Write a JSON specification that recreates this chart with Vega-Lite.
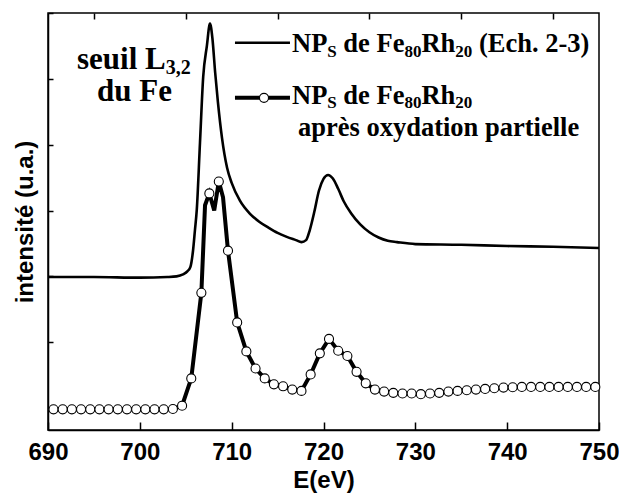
{
  "$schema": "https://vega.github.io/schema/vega-lite/v6.json",
  "width": 551,
  "height": 417,
  "autosize": {"type": "none"},
  "padding": {"left": 48, "top": 13, "right": 20, "bottom": 64},
  "background": "white",
  "config": {
    "view": {"stroke": "black", "strokeWidth": 1.5},
    "axis": {
      "grid": false,
      "domainColor": "black",
      "domainWidth": 1.5,
      "tickColor": "black",
      "tickWidth": 1.5,
      "labelFont": "Liberation Sans",
      "labelFontWeight": "bold",
      "labelFontSize": 24,
      "labelColor": "black",
      "titleFont": "Liberation Sans",
      "titleFontWeight": "bold",
      "titleFontSize": 24,
      "titleColor": "black"
    }
  },
  "datasets": {
    "upper": [
      {"E": 690, "v": 1.99}, {"E": 695, "v": 1.99}, {"E": 700, "v": 1.98}, {"E": 703, "v": 1.99},
      {"E": 704, "v": 2.0}, {"E": 704.7, "v": 2.03}, {"E": 705.2, "v": 2.08}, {"E": 705.5, "v": 2.14},
      {"E": 705.8, "v": 2.4}, {"E": 706.0, "v": 2.7}, {"E": 706.2, "v": 3.01}, {"E": 706.55, "v": 4.03},
      {"E": 706.9, "v": 5.03}, {"E": 707.3, "v": 5.5}, {"E": 707.64, "v": 5.84}, {"E": 707.9, "v": 5.62},
      {"E": 708.2, "v": 5.1}, {"E": 708.5, "v": 4.65}, {"E": 708.95, "v": 4.1}, {"E": 709.5, "v": 3.65},
      {"E": 710, "v": 3.42}, {"E": 710.9, "v": 3.15}, {"E": 712, "v": 2.95}, {"E": 713, "v": 2.83},
      {"E": 714, "v": 2.74}, {"E": 715, "v": 2.66}, {"E": 716, "v": 2.6}, {"E": 717, "v": 2.55},
      {"E": 717.6, "v": 2.52}, {"E": 718.1, "v": 2.55}, {"E": 718.5, "v": 2.7}, {"E": 719.0, "v": 2.98},
      {"E": 719.5, "v": 3.3}, {"E": 720.0, "v": 3.48}, {"E": 720.5, "v": 3.54}, {"E": 721.0, "v": 3.49},
      {"E": 721.6, "v": 3.33}, {"E": 722.2, "v": 3.14}, {"E": 723, "v": 2.96}, {"E": 724, "v": 2.79},
      {"E": 725, "v": 2.67}, {"E": 726, "v": 2.59}, {"E": 727, "v": 2.54}, {"E": 728, "v": 2.52},
      {"E": 730, "v": 2.49}, {"E": 735, "v": 2.48}, {"E": 740, "v": 2.46}, {"E": 745, "v": 2.45},
      {"E": 750, "v": 2.43}
    ],
    "lower": [
      {"E": 690.6, "v": -0.02, "kind": "mesure"}, {"E": 691.6, "v": -0.02, "kind": "mesure"},
      {"E": 692.6, "v": -0.02, "kind": "mesure"}, {"E": 693.6, "v": -0.02, "kind": "mesure"},
      {"E": 694.6, "v": -0.02, "kind": "mesure"}, {"E": 695.6, "v": -0.02, "kind": "mesure"},
      {"E": 696.6, "v": -0.02, "kind": "mesure"}, {"E": 697.6, "v": -0.02, "kind": "mesure"},
      {"E": 698.6, "v": -0.02, "kind": "mesure"}, {"E": 699.6, "v": -0.02, "kind": "mesure"},
      {"E": 700.6, "v": -0.02, "kind": "mesure"}, {"E": 701.6, "v": -0.02, "kind": "mesure"},
      {"E": 702.6, "v": -0.02, "kind": "mesure"}, {"E": 703.6, "v": -0.015, "kind": "mesure"},
      {"E": 704.6, "v": 0.035, "kind": "mesure"}, {"E": 705.6, "v": 0.45, "kind": "mesure"},
      {"E": 706.7, "v": 1.75, "kind": "mesure"}, {"E": 707.1, "v": 3.08, "kind": "trace"},
      {"E": 707.57, "v": 3.26, "kind": "mesure"}, {"E": 708.1, "v": 3.0, "kind": "trace"},
      {"E": 708.6, "v": 3.44, "kind": "mesure"}, {"E": 709.06, "v": 3.2, "kind": "trace"},
      {"E": 709.6, "v": 2.39, "kind": "mesure"}, {"E": 710.6, "v": 1.3, "kind": "mesure"},
      {"E": 711.6, "v": 0.86, "kind": "mesure"}, {"E": 712.6, "v": 0.6, "kind": "mesure"},
      {"E": 713.6, "v": 0.45, "kind": "mesure"}, {"E": 714.6, "v": 0.36, "kind": "mesure"},
      {"E": 715.6, "v": 0.33, "kind": "mesure"}, {"E": 716.6, "v": 0.28, "kind": "mesure"},
      {"E": 717.6, "v": 0.26, "kind": "mesure"}, {"E": 718.6, "v": 0.51, "kind": "mesure"},
      {"E": 719.6, "v": 0.83, "kind": "mesure"}, {"E": 720.6, "v": 1.05, "kind": "mesure"},
      {"E": 721.6, "v": 0.87, "kind": "mesure"}, {"E": 722.6, "v": 0.79, "kind": "mesure"},
      {"E": 723.6, "v": 0.55, "kind": "mesure"}, {"E": 724.6, "v": 0.375, "kind": "mesure"},
      {"E": 725.6, "v": 0.28, "kind": "mesure"}, {"E": 726.6, "v": 0.25, "kind": "mesure"},
      {"E": 727.6, "v": 0.23, "kind": "mesure"}, {"E": 728.6, "v": 0.22, "kind": "mesure"},
      {"E": 729.6, "v": 0.22, "kind": "mesure"}, {"E": 730.6, "v": 0.21, "kind": "mesure"},
      {"E": 731.6, "v": 0.22, "kind": "mesure"}, {"E": 732.6, "v": 0.23, "kind": "mesure"},
      {"E": 733.6, "v": 0.25, "kind": "mesure"}, {"E": 734.6, "v": 0.26, "kind": "mesure"},
      {"E": 735.6, "v": 0.27, "kind": "mesure"}, {"E": 736.6, "v": 0.28, "kind": "mesure"},
      {"E": 737.6, "v": 0.29, "kind": "mesure"}, {"E": 738.6, "v": 0.3, "kind": "mesure"},
      {"E": 739.6, "v": 0.31, "kind": "mesure"}, {"E": 740.6, "v": 0.315, "kind": "mesure"},
      {"E": 741.6, "v": 0.32, "kind": "mesure"}, {"E": 742.6, "v": 0.32, "kind": "mesure"},
      {"E": 743.6, "v": 0.32, "kind": "mesure"}, {"E": 744.6, "v": 0.32, "kind": "mesure"},
      {"E": 745.6, "v": 0.32, "kind": "mesure"}, {"E": 746.6, "v": 0.32, "kind": "mesure"},
      {"E": 747.6, "v": 0.32, "kind": "mesure"}, {"E": 748.6, "v": 0.32, "kind": "mesure"},
      {"E": 749.6, "v": 0.32, "kind": "mesure"}
    ],
    "legendMain": [
      {"t": "NP", "E": 716.57, "v": 5.41}, {"t": "de Fe", "E": 722.16, "v": 5.41},
      {"t": "Rh", "E": 730.67, "v": 5.41}, {"t": "(Ech. 2-3)", "E": 736.93, "v": 5.41},
      {"t": "NP", "E": 716.57, "v": 4.62}, {"t": "de Fe", "E": 722.16, "v": 4.62},
      {"t": "Rh", "E": 730.67, "v": 4.62},
      {"t": "après oxydation partielle", "E": 717.22, "v": 4.134}
    ],
    "legendSub": [
      {"t": "S", "E": 720.41, "v": 5.334}, {"t": "80", "E": 728.82, "v": 5.334}, {"t": "20", "E": 734.36, "v": 5.334},
      {"t": "S", "E": 720.41, "v": 4.559}, {"t": "80", "E": 728.82, "v": 4.559}, {"t": "20", "E": 734.36, "v": 4.559}
    ],
    "annotMain": [
      {"t": "seuil L", "E": 693.16, "v": 5.152}, {"t": "du Fe", "E": 695.34, "v": 4.658}
    ],
    "annotSub": [
      {"t": "3,2", "E": 702.82, "v": 5.076}
    ]
  },
  "resolve": {"axis": {"x": "independent", "y": "independent"}},
  "layer": [
    {
      "data": {"name": "upper"},
      "mark": {"type": "line", "color": "black", "strokeWidth": 2.6, "interpolate": "monotone"},
      "encoding": {
        "x": {"field": "E", "type": "quantitative",
              "scale": {"domain": [690, 750], "nice": false, "zero": false},
              "axis": {"values": [690, 700, 710, 720, 730, 740, 750], "format": "d", "tickSize": -8,
                       "labelPadding": 18, "labelOverlap": false, "labelFlush": false,
                       "title": "E(eV)", "titlePadding": 4}},
        "y": {"field": "v", "type": "quantitative",
              "scale": {"domain": [-0.334, 6], "nice": false, "zero": false},
              "axis": {"values": [0, 1, 2, 3, 4, 5, 6], "tickSize": -5, "labels": false,
                       "title": "intensité (u.a.)", "titlePadding": 10}}
      }
    },
    {
      "data": {"name": "lower"},
      "mark": {"type": "line", "color": "black", "strokeWidth": 4},
      "encoding": {
        "x": {"field": "E", "type": "quantitative",
              "axis": {"values": [695, 705, 715, 725, 735, 745], "tickSize": -6, "labels": false,
                       "domain": false, "title": null}},
        "y": {"field": "v", "type": "quantitative", "axis": null}
      }
    },
    {
      "data": {"name": "lower"},
      "transform": [{"filter": "datum.kind === 'mesure'"}],
      "mark": {"type": "point", "shape": "circle", "filled": true, "fill": "white", "stroke": "black",
               "strokeWidth": 1.1, "size": 82, "opacity": 1},
      "encoding": {
        "x": {"field": "E", "type": "quantitative", "axis": null},
        "y": {"field": "v", "type": "quantitative", "axis": null}
      }
    },
    {
      "data": {"values": [{"E": 710.36, "E2": 716.35, "v": 5.547}]},
      "mark": {"type": "rule", "color": "black", "strokeWidth": 2.6},
      "encoding": {
        "x": {"field": "E", "type": "quantitative", "axis": null},
        "x2": {"field": "E2"},
        "y": {"field": "v", "type": "quantitative", "axis": null}
      }
    },
    {
      "data": {"values": [{"E": 710.36, "E2": 716.35, "v": 4.711}]},
      "mark": {"type": "rule", "color": "black", "strokeWidth": 4},
      "encoding": {
        "x": {"field": "E", "type": "quantitative", "axis": null},
        "x2": {"field": "E2"},
        "y": {"field": "v", "type": "quantitative", "axis": null}
      }
    },
    {
      "data": {"values": [{"E": 713.52, "v": 4.711}]},
      "mark": {"type": "point", "shape": "circle", "filled": true, "fill": "white", "stroke": "black",
               "strokeWidth": 1.1, "size": 82, "opacity": 1},
      "encoding": {
        "x": {"field": "E", "type": "quantitative", "axis": null},
        "y": {"field": "v", "type": "quantitative", "axis": null}
      }
    },
    {
      "data": {"name": "legendMain"},
      "mark": {"type": "text", "font": "Liberation Serif", "fontWeight": "bold", "fontSize": 26.5,
               "align": "left", "baseline": "alphabetic", "color": "black"},
      "encoding": {
        "x": {"field": "E", "type": "quantitative", "axis": null},
        "y": {"field": "v", "type": "quantitative", "axis": null},
        "text": {"field": "t"}
      }
    },
    {
      "data": {"name": "legendSub"},
      "mark": {"type": "text", "font": "Liberation Serif", "fontWeight": "bold", "fontSize": 17,
               "align": "left", "baseline": "alphabetic", "color": "black"},
      "encoding": {
        "x": {"field": "E", "type": "quantitative", "axis": null},
        "y": {"field": "v", "type": "quantitative", "axis": null},
        "text": {"field": "t"}
      }
    },
    {
      "data": {"name": "annotMain"},
      "mark": {"type": "text", "font": "Liberation Serif", "fontWeight": "bold", "fontSize": 31,
               "align": "left", "baseline": "alphabetic", "color": "black"},
      "encoding": {
        "x": {"field": "E", "type": "quantitative", "axis": null},
        "y": {"field": "v", "type": "quantitative", "axis": null},
        "text": {"field": "t"}
      }
    },
    {
      "data": {"name": "annotSub"},
      "mark": {"type": "text", "font": "Liberation Serif", "fontWeight": "bold", "fontSize": 20,
               "align": "left", "baseline": "alphabetic", "color": "black"},
      "encoding": {
        "x": {"field": "E", "type": "quantitative", "axis": null},
        "y": {"field": "v", "type": "quantitative", "axis": null},
        "text": {"field": "t"}
      }
    }
  ]
}
